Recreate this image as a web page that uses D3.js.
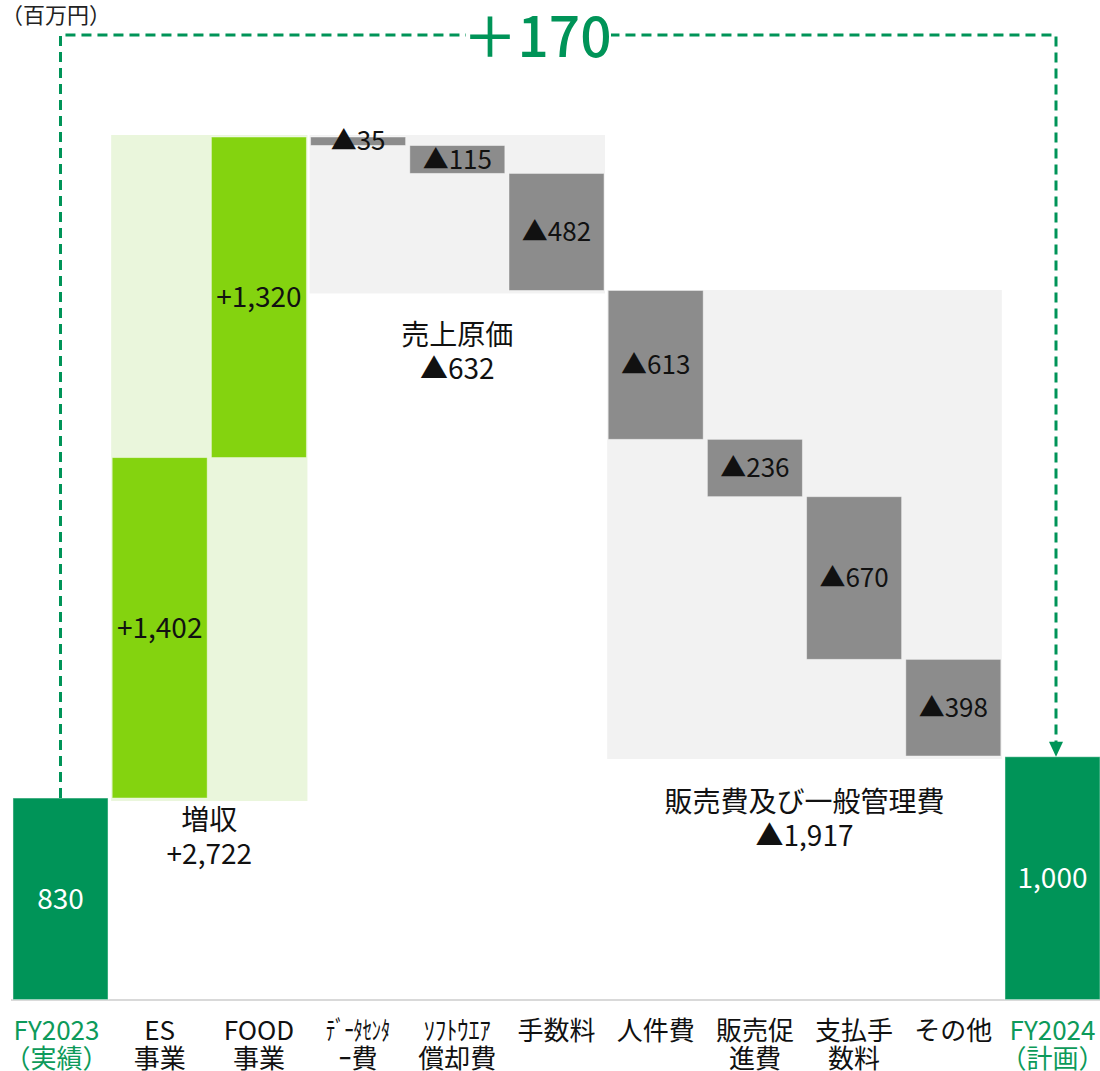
<!DOCTYPE html>
<html>
<head>
<meta charset="utf-8">
<script src="https://cdn.jsdelivr.net/npm/d3@7"></script>
<style>
body { margin: 0; background: #fff; }
text { font-family: "Noto Sans CJK JP", "Noto Sans", sans-serif; }
</style>
</head>
<body>
<div id="chart"></div>
<script>
// data
var categories = ["FY2023(実績)", "ES事業", "FOOD事業", "データセンター費", "ソフトウエア償却費",
                  "手数料", "人件費", "販売促進費", "支払手数料", "その他", "FY2024(計画)"];
var label_line1 = ["FY2023", "ES", "FOOD", "ﾃﾞｰﾀｾﾝﾀ", "ｿﾌﾄｳｴｱ", "手数料", "人件費", "販売促", "支払手", "その他", "FY2024"];
var label_line2 = ["（実績）", "事業", "事業", "ｰ費", "償却費", "", "", "進費", "数料", "", "（計画）"];
var values = [830, 1402, 1320, -35, -115, -482, -613, -236, -670, -398, 1000];
var kinds = ["total", "up", "up", "down", "down", "down", "down", "down", "down", "down", "total"];
var group_names = ["増収", "売上原価", "販売費及び一般管理費"];
var group_first = [1, 3, 6];
var group_last = [2, 5, 9];
var unit_label = "（百万円）";

var width = 1100, height = 1071;
var dark_green = "#009458", lime = "#84d30f", grey_bar = "#8c8c8c";
var group_fill = ["#eaf6dc", "#f2f2f2", "#f2f2f2"];
var group_dy = [29, 52, 53];   // baseline of the group caption below its box
var label_size = {total: 28, up: 28, down: 26};

var svg = d3.select("#chart").append("svg")
    .attr("width", width)
    .attr("height", height);

// waterfall running totals
var running = 0;
var bars = values.map(function(v, i) {
    var b = {i: i, v: v, kind: kinds[i]};
    if (kinds[i] == "total") { b.lo = 0; b.hi = v; running = v; }
    else if (v >= 0) { b.lo = running; b.hi = running + v; running += v; }
    else { b.hi = running; b.lo = running + v; running += v; }
    return b;
});

var x = d3.scaleBand()
    .domain(d3.range(categories.length))
    .range([10.9, 1102.1])
    .paddingInner(0.042)
    .paddingOuter(0.021);
var bw = x.bandwidth();

var y = d3.scaleLinear()
    .domain([0, d3.max(bars, function(d) { return d.hi; })])
    .range([999.6, 137]);

var fmt = d3.format(",");
function bar_text(d) {
    if (d.kind == "total") return fmt(d.v);
    if (d.v >= 0) return "+" + fmt(d.v);
    return "▲" + fmt(-d.v);
}

// group background boxes
var groups = group_names.map(function(name, g) {
    var members = bars.slice(group_first[g], group_last[g] + 1);
    var sum = d3.sum(members, function(d) { return d.v; });
    return {
        name: name,
        sum: sum,
        x0: x(group_first[g]) - 1,
        x1: x(group_last[g]) + bw + 1,
        top: y(d3.max(members, function(d) { return d.hi; })) - (g == 2 ? 0.5 : 2),
        bottom: y(d3.min(members, function(d) { return d.lo; })) + 3,
        g: g
    };
});

svg.selectAll("rect.grp")
    .data(groups)
    .enter().append("rect")
    .attr("class", "grp")
    .attr("x", function(d) { return d.x0; })
    .attr("y", function(d) { return d.top; })
    .attr("width", function(d) { return d.x1 - d.x0; })
    .attr("height", function(d) { return d.bottom - d.top; })
    .attr("fill", function(d) { return group_fill[d.g]; });

// baseline
svg.append("line")
    .attr("x1", 11).attr("x2", width)
    .attr("y1", y(0) + 0.5).attr("y2", y(0) + 0.5)
    .attr("stroke", "#d9d9d9")
    .attr("stroke-width", 2);

// bars
svg.selectAll("rect.bar")
    .data(bars)
    .enter().append("rect")
    .attr("class", "bar")
    .attr("x", function(d) { return x(d.i); })
    .attr("y", function(d) { return y(d.hi); })
    .attr("width", bw)
    .attr("height", function(d) { return y(d.lo) - y(d.hi); })
    .attr("fill", function(d) {
        return d.kind == "total" ? dark_green : (d.kind == "up" ? lime : grey_bar);
    })
    .attr("stroke", "#fff")
    .attr("stroke-opacity", 0.45)
    .attr("stroke-width", 1);

svg.selectAll("text.val")
    .data(bars)
    .enter().append("text")
    .attr("class", "val")
    .attr("x", function(d) { return x(d.i) + bw / 2; })
    .attr("y", function(d) { return (y(d.hi) + y(d.lo)) / 2 + label_size[d.kind] * 0.35; })
    .attr("text-anchor", "middle")
    .attr("font-size", function(d) { return label_size[d.kind]; })
    .attr("fill", function(d) { return d.kind == "total" ? "#fff" : "#111"; })
    .text(bar_text);

// group captions
var cap = svg.selectAll("g.cap")
    .data(groups)
    .enter().append("g")
    .attr("class", "cap");
cap.append("text")
    .attr("x", function(d) { return (d.x0 + d.x1) / 2; })
    .attr("y", function(d) { return d.bottom + group_dy[d.g]; })
    .attr("text-anchor", "middle")
    .attr("font-size", 28)
    .attr("fill", "#111")
    .text(function(d) { return d.name; });
cap.append("text")
    .attr("x", function(d) { return (d.x0 + d.x1) / 2; })
    .attr("y", function(d) { return d.bottom + group_dy[d.g] + 34; })
    .attr("text-anchor", "middle")
    .attr("font-size", 28)
    .attr("fill", "#111")
    .text(function(d) { return d.sum >= 0 ? "+" + fmt(d.sum) : "▲" + fmt(-d.sum); });

// category labels
var is_total = function(i) { return kinds[i] == "total"; };
var lab = svg.selectAll("g.lab")
    .data(d3.range(categories.length))
    .enter().append("g")
    .attr("class", "lab");
lab.append("text")
    .attr("x", function(i) { return x(i) + bw / 2 - (i == 0 ? 4 : 0); })
    .attr("y", 1040)
    .attr("text-anchor", "middle")
    .attr("font-size", 26)
    .attr("fill", function(i) { return is_total(i) ? "#0d9a5a" : "#111"; })
    .each(function(i) {
        // the half-width katakana lines are squeezed in the original
        if (i == 3) d3.select(this).attr("textLength", 64).attr("lengthAdjust", "spacingAndGlyphs");
        if (i == 4) d3.select(this).attr("textLength", 67).attr("lengthAdjust", "spacingAndGlyphs");
    })
    .text(function(i) { return label_line1[i]; });
lab.append("text")
    .attr("x", function(i) { return x(i) + bw / 2 - (i == 0 ? 4 : 0); })
    .attr("y", 1068)
    .attr("text-anchor", "middle")
    .attr("font-size", 26)
    .attr("fill", function(i) { return is_total(i) ? "#0d9a5a" : "#111"; })
    .text(function(i) { return label_line2[i]; });

// unit
svg.append("text")
    .attr("x", 1)
    .attr("y", 23)
    .attr("font-size", 22)
    .attr("fill", "#222")
    .text(unit_label);

// total change bracket
var first = bars[0], last = bars[bars.length - 1];
var xa = x(0) + bw / 2, xb = x(bars.length - 1) + bw / 2 + 3.5, ytop = 35;
svg.append("path")
    .attr("d", "M" + xa + "," + y(first.hi) + "V" + ytop + "H" + xb + "V" + (y(last.hi) - 14))
    .attr("fill", "none")
    .attr("stroke", dark_green)
    .attr("stroke-width", 3)
    .attr("stroke-dasharray", "10,6");
svg.append("path")
    .attr("d", "M" + (xb - 7) + "," + (y(last.hi) - 15) + "L" + (xb + 7) + "," + (y(last.hi) - 15) +
               "L" + xb + "," + y(last.hi) + "Z")
    .attr("fill", dark_green);

var diff = last.v - first.v;
svg.append("rect")
    .attr("x", 466).attr("y", 8)
    .attr("width", 145).attr("height", 56)
    .attr("fill", "#fff");
svg.append("text")
    .attr("x", 537)
    .attr("y", 57)
    .attr("text-anchor", "middle")
    .attr("font-size", 55)
    .attr("font-weight", 500)
    .attr("fill", dark_green)
    .text((diff >= 0 ? "＋" : "▲") + fmt(Math.abs(diff)));
</script>
</body>
</html>
